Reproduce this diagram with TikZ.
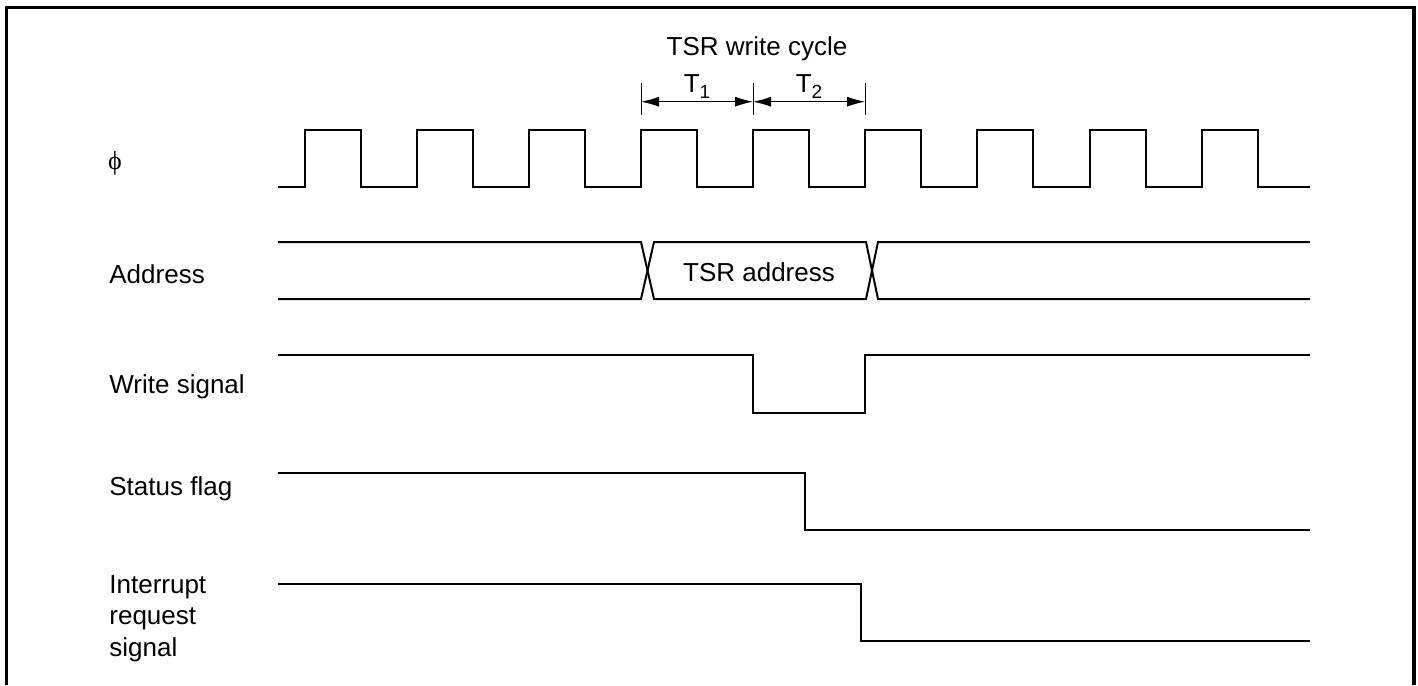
\documentclass[tikz,border=0pt]{standalone}
\usepackage{fontspec}
\setmainfont{Liberation Sans}
\newfontfamily\phifont{Liberation Serif}
\usetikzlibrary{arrows.meta}
\newcommand{\tsub}[1]{T\raisebox{-3pt}{\fontsize{9.5}{10}\selectfont #1}}
\tikzset{
  wave/.style={line width=1pt, line join=miter},
  sig/.style={anchor=base west, inner sep=0pt, font=\fontsize{13}{15.75}\selectfont, align=left},
  dim/.style={line width=0.5pt},
}
\begin{document}
\begin{tikzpicture}[x=0.5pt, y=-0.5pt, >={Latex[length=9pt,width=5pt]}, font=\fontsize{13}{15.75}\selectfont]
\useasboundingbox (0,0) rectangle (1418,685);
% Rahmen
\draw[line width=1.65pt] (6.7,685) -- (6.7,7.5) -- (1414,7.5) -- (1414,685);
% Beschriftung links
\node[inner sep=0pt, font=\phifont\fontsize{13}{15}\selectfont] (lblphi) at (115,163) {ϕ};
\node[sig] (lbladdr) at (109,283) {Address};
\node[sig] (lblwr) at (109,393) {Write signal};
\node[sig] (lblflag) at (109,495) {Status flag};
\node[sig] (lblirq) at (109,656) {Interrupt\\request\\signal};
% Schreibzyklus
\node[anchor=base, inner sep=0pt] (cycle) at (757,55) {TSR write cycle};
\coordinate (tk0) at (641,101.7);
\coordinate (tk1) at (753,101.7);
\coordinate (tk2) at (865,101.7);
\foreach \t in {tk0,tk1,tk2}
  \draw[dim] (\t) ++(0,-18.7) -- ++(0,32);
\draw[dim, <->] (tk0) -- (tk1) node[midway, above, inner sep=1.3pt] (tone) {\tsub{1}};
\draw[dim, <->] (tk1) -- (tk2) node[midway, above, inner sep=1.3pt] (ttwo) {\tsub{2}};
% Takt
\draw[wave] (278,187) \foreach \k in {0,...,8} {
  -- ({304.8+112.1*\k},187) -- ++(0,-57) -- ++(56.05,0) -- ++(0,57) } -- (1310,187);
% Adresse
\draw[wave] (278,242) -- (641,242) -- (654,299) -- (866,299) -- (878,242) -- (1310,242);
\draw[wave] (278,299) -- (641,299) -- (654,242) -- (866,242) -- (878,299) -- (1310,299);
\node[anchor=base, inner sep=0pt] (addrtxt) at (759,281) {TSR address};
% Schreibsignal
\draw[wave] (278,355) -- (753,355) -- (753,413) -- (865,413) -- (865,355) -- (1310,355);
% Statusflag
\draw[wave] (278,473) -- (805,473) -- (805,530) -- (1310,530);
% Interrupt
\draw[wave] (278,584) -- (861,584) -- (861,641) -- (1310,641);
\end{tikzpicture}
\end{document}
